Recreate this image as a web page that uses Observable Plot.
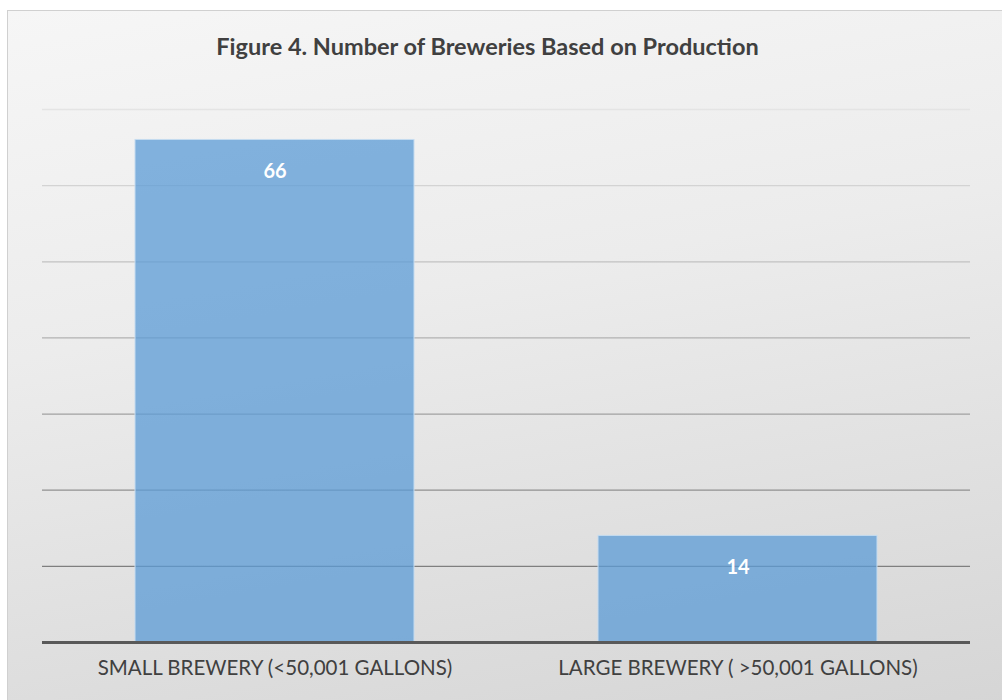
<!DOCTYPE html>
<html>
<head>
<meta charset="utf-8">
<script src="https://cdn.jsdelivr.net/npm/d3@7"></script>
<script src="https://cdn.jsdelivr.net/npm/@observablehq/plot@0.6"></script>
<style>
  html, body { margin: 0; padding: 0; width: 1002px; height: 700px; overflow: hidden; background: #ffffff; }
  #frame {
    position: absolute; left: 7px; top: 10px; width: 1010px; height: 700px;
    border: 1px solid #d0d0d0; box-sizing: border-box;
    background: linear-gradient(170deg, #f6f6f6 0%, #ececec 40%, #d5d5d5 100%);
  }
  #title {
    position: absolute; left: 0; top: 32px; width: 975px; text-align: center;
    font-family: Lato, "Open Sans", sans-serif; font-weight: bold; font-size: 23.5px; color: #404040;
  }
  #chart { position: absolute; left: 0; top: 0; }
  #chart svg { background: transparent !important; }
</style>
</head>
<body>
<div id="frame"></div>
<div id="title">Figure 4. Number of Breweries Based on Production</div>
<div id="chart"></div>
<script>
const categories = ["SMALL BREWERY (<50,001 GALLONS)", "LARGE BREWERY ( >50,001 GALLONS)"];
const values = [66, 14];
const gridTicks = [10, 20, 30, 40, 50, 60, 70];

const data = categories.map((c, i) => ({category: c, value: values[i]}));
const gridColor = d3.scaleLinear().domain([10, 70]).range(["#7f7f7f", "#e4e4e4"]).interpolate(d3.interpolateRgb);

const chart = Plot.plot({
  width: 1002,
  height: 700,
  marginLeft: 42,
  marginRight: 32,
  marginTop: 109,
  marginBottom: 58,
  style: {background: "transparent", fontFamily: "Lato, 'Open Sans', sans-serif"},
  x: {domain: categories, paddingInner: 0.397, paddingOuter: 0.2, label: null},
  y: {domain: [0, 70], axis: null},
  marks: [
    Plot.ruleY(gridTicks, {stroke: d => gridColor(d), strokeWidth: 1.3}),
    Plot.barY(data, {x: "category", y: "value", fill: "#5b9bd5", fillOpacity: 0.75, stroke: "#c5dcf0", strokeWidth: 1}),
    Plot.ruleY([0], {stroke: "#595959", strokeWidth: 3}),
    Plot.text(data, {x: "category", y: "value", text: d => String(d.value), dy: 32, fill: "white", fontWeight: "bold", fontSize: 20}),
    Plot.axisX({tickSize: 0, tickPadding: 18, fontSize: 20.5, color: "#404040", label: null})
  ]
});
document.getElementById("chart").appendChild(chart);
</script>
</body>
</html>
